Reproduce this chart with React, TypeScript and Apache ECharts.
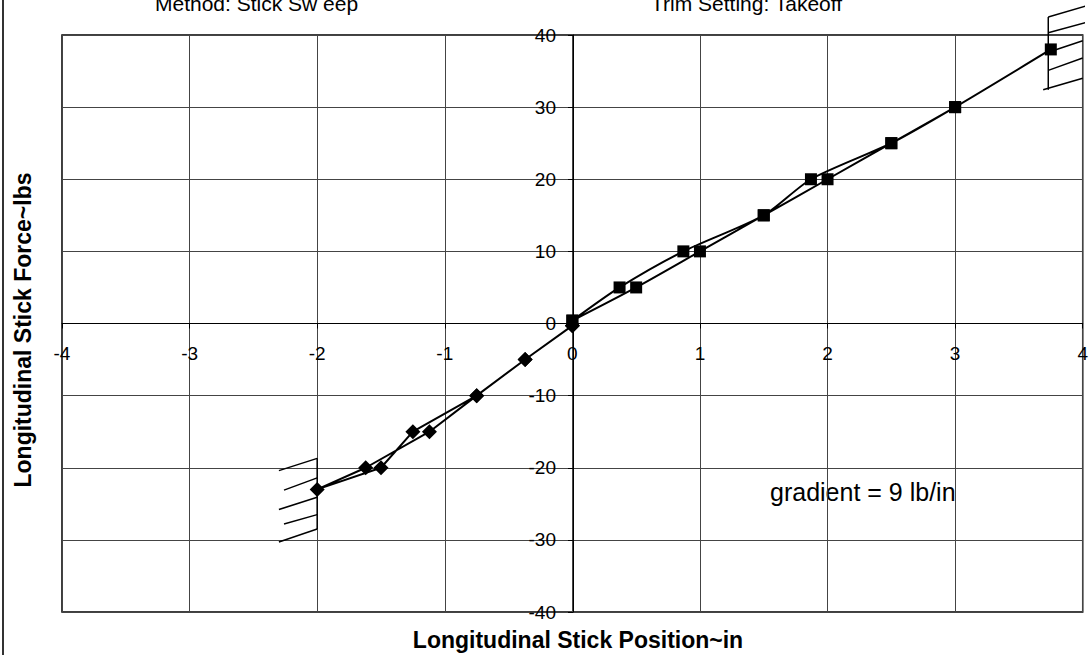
import React, { useEffect, useRef } from 'react';
import * as echarts from 'echarts';

const FONT = '"Liberation Sans", Arial, sans-serif';

// Stick sweep, forward (push) side: force vs position, outgoing then return
const posSweepX = [0, 0.5, 1, 1.5, 2, 2.5, 3, 3.75, 3, 2.5, 1.87, 1.5, 0.87, 0.37, 0];
const posSweepY = [0.4, 5, 10, 15, 20, 25, 30, 38, 30, 25, 20, 15, 10, 5, 0.4];

// Stick sweep, aft (pull) side
const negSweepX = [0, -0.37, -0.75, -1.25, -1.5, -2, -1.62, -1.12, -0.75, -0.37, 0];
const negSweepY = [-0.3, -5, -10, -15, -20, -23, -20, -15, -10, -5, -0.3];

// Stick stop markers (hatched limits), in data units
const aftStopLine = [[-2, -18.7], [-2, -28.5]];
const aftStopHatch = [
  [[-2.3, -20.4], [-2, -18.7]],
  [[-2.26, -23.1], [-2, -21.4]],
  [[-2.3, -25.8], [-2, -24.1]],
  [[-2.26, -27.8], [-2, -26.5]],
  [[-2.3, -30.3], [-2, -28.5]],
];
const fwdStopLine = [[3.73, 42.5], [3.73, 32.4]];
const fwdStopHatch = [
  [[3.73, 42.5], [4.02, 44.0]],
  [[3.73, 40.3], [4.02, 41.7]],
  [[3.73, 37.6], [4.0, 39.2]],
  [[3.73, 35.1], [4.0, 36.8]],
  [[3.69, 32.4], [4.0, 34.0]],
];

const xMin = -4, xMax = 4, xStep = 1;
const yMin = -40, yMax = 40, yStep = 10;

const titleLeft = 'Method: Stick Sw eep';
const titleRight = 'Trim Setting: Takeoff';
const xTitle = 'Longitudinal Stick Position~in';
const yTitle = 'Longitudinal Stick Force~lbs';
const note = 'gradient = 9 lb/in';

const W = 1091, H = 655;
const G = { left: 62, right: 7, top: 35, bottom: 43 };

export default function App() {
  const ref = useRef<HTMLDivElement>(null);
  useEffect(() => {
    document.body.style.margin = '0';
    const chart = echarts.init(ref.current!, null, { renderer: 'svg' });
    const plotW = W - G.left - G.right;
    const plotH = H - G.top - G.bottom;
    // place axes through the origin (axes cross at 0,0)
    const xOffset = -plotH * (0 - yMin) / (yMax - yMin);
    const yOffset = -plotW * (0 - xMin) / (xMax - xMin);
    const stopSeries = (data: number[][]) => ({
      type: 'line',
      data,
      symbol: 'none',
      clip: false,
      silent: true,
      lineStyle: { color: '#000', width: 1.5 },
      z: 3,
    });
    chart.setOption({
      animation: false,
      backgroundColor: '#fff',
      grid: {
        ...G,
        show: true, borderColor: '#000', borderWidth: 1.5,
      },
      xAxis: {
        type: 'value', min: xMin, max: xMax, interval: xStep,
        position: 'bottom', offset: xOffset,
        axisLine: { onZero: false, lineStyle: { color: '#000', width: 1 } },
        axisTick: { show: true, length: 5, lineStyle: { color: '#000' } },
        axisLabel: { color: '#000', fontSize: 19, fontFamily: FONT, margin: 20 },
        splitLine: { show: true, lineStyle: { color: '#444', width: 1 } },
      },
      yAxis: {
        type: 'value', min: yMin, max: yMax, interval: yStep,
        position: 'left', offset: yOffset,
        axisLine: { onZero: false, lineStyle: { color: '#000', width: 1 } },
        axisTick: { show: true, length: 5, lineStyle: { color: '#000' } },
        axisLabel: { color: '#000', fontSize: 19, fontFamily: FONT, margin: 17 },
        splitLine: { show: true, lineStyle: { color: '#444', width: 1 } },
      },
      graphic: [
        { type: 'line', shape: { x1: 3, y1: 0, x2: 3, y2: H }, style: { stroke: '#333', lineWidth: 2 } },
        { type: 'text', x: 155, y: 3, style: { text: titleLeft, font: `21px ${FONT}`, fill: '#000', textAlign: 'left', textVerticalAlign: 'middle' } },
        { type: 'text', x: 651, y: 3, style: { text: titleRight, font: `21px ${FONT}`, fill: '#000', textAlign: 'left', textVerticalAlign: 'middle' } },
        { type: 'text', x: 578, y: 640, style: { text: xTitle, font: `bold 23px ${FONT}`, fill: '#000', textAlign: 'center', textVerticalAlign: 'middle' } },
        { type: 'text', x: 23, y: 330, rotation: Math.PI / 2, style: { text: yTitle, font: `bold 23px ${FONT}`, fill: '#000', textAlign: 'center', textVerticalAlign: 'middle' } },
        { type: 'text', x: 770, y: 492, style: { text: note, font: `25px ${FONT}`, fill: '#000', textAlign: 'left', textVerticalAlign: 'middle' } },
      ],
      series: [
        {
          type: 'line',
          data: negSweepX.map((x, i) => [x, negSweepY[i]]),
          symbol: 'diamond', symbolSize: 15,
          itemStyle: { color: '#000' },
          lineStyle: { color: '#000', width: 2 },
          z: 4,
        },
        {
          type: 'line',
          data: posSweepX.map((x, i) => [x, posSweepY[i]]),
          symbol: 'rect', symbolSize: 12,
          smooth: 0.25,
          itemStyle: { color: '#000' },
          lineStyle: { color: '#000', width: 2 },
          z: 4,
        },
        stopSeries(aftStopLine),
        ...aftStopHatch.map(stopSeries),
        stopSeries(fwdStopLine),
        ...fwdStopHatch.map(stopSeries),
      ],
    });
    return () => chart.dispose();
  }, []);
  return <div ref={ref} style={{ width: W, height: H }} />;
}
